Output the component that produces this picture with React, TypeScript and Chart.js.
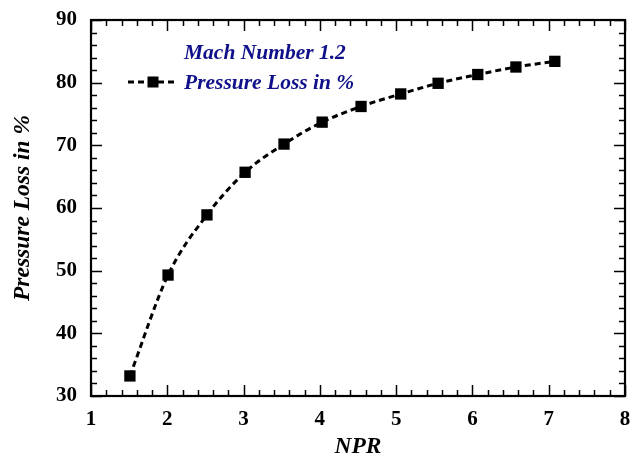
import React, { useEffect, useRef } from 'react';
import { Chart, registerables } from 'chart.js';

Chart.register(...registerables);

const npr = [1.51, 2.01, 2.52, 3.02, 3.53, 4.03, 4.54, 5.06, 5.55, 6.07, 6.57, 7.08];
const pressureLoss = [33.2, 49.3, 58.9, 65.7, 70.2, 73.7, 76.2, 78.2, 79.9, 81.3, 82.5, 83.4];
const legendLines = ['Mach Number 1.2', 'Pressure Loss in %'];
const xTitle = 'NPR';
const yTitle = 'Pressure Loss in %';
const xRange = [1, 8];
const yRange = [30, 90];

const SERIF = '"Liberation Serif", "Times New Roman", serif';
const NAVY = '#10108a';

const frameTicks = {
  id: 'frameTicks',
  beforeDatasetsDraw(chart: any) {
    const { ctx, chartArea } = chart;
    const { left, right, top, bottom } = chartArea;
    const xs = chart.scales.x;
    const ys = chart.scales.y;
    ctx.save();
    ctx.strokeStyle = '#000';
    ctx.lineWidth = 1.5;
    ctx.beginPath();
    const nx = Math.round((xRange[1] - xRange[0]) / 0.2);
    for (let i = 0; i <= nx; i++) {
      const v = xRange[0] + i * 0.2;
      const px = Math.round(xs.getPixelForValue(v)) + 0.5;
      const len = i % 5 === 0 ? 11 : 6;
      ctx.moveTo(px, bottom);
      ctx.lineTo(px, bottom - len);
      ctx.moveTo(px, top);
      ctx.lineTo(px, top + len);
    }
    const ny = Math.round((yRange[1] - yRange[0]) / 2);
    for (let i = 0; i <= ny; i++) {
      const v = yRange[0] + i * 2;
      const py = Math.round(ys.getPixelForValue(v)) + 0.5;
      const len = i % 5 === 0 ? 11 : 6;
      ctx.moveTo(left, py);
      ctx.lineTo(left + len, py);
      ctx.moveTo(right, py);
      ctx.lineTo(right - len, py);
    }
    ctx.stroke();
    ctx.lineWidth = 2.2;
    ctx.strokeRect(left, top, right - left, bottom - top);
    ctx.restore();
  },
};

const legendPlugin = {
  id: 'customLegend',
  afterDraw(chart: any) {
    const { ctx } = chart;
    ctx.save();
    ctx.font = `italic bold 21.5px ${SERIF}`;
    ctx.fillStyle = NAVY;
    ctx.textBaseline = 'alphabetic';
    ctx.textAlign = 'left';
    ctx.fillText(legendLines[0], 184, 59);
    ctx.fillText(legendLines[1], 184, 89);
    ctx.strokeStyle = '#000';
    ctx.lineWidth = 3;
    ctx.setLineDash([6, 4]);
    ctx.beginPath();
    ctx.moveTo(128, 82);
    ctx.lineTo(178, 82);
    ctx.stroke();
    ctx.setLineDash([]);
    ctx.fillStyle = '#000';
    ctx.fillRect(153 - 5.5, 82 - 5.5, 11, 11);
    ctx.restore();
  },
};

export default function App() {
  const ref = useRef<HTMLCanvasElement | null>(null);
  useEffect(() => {
    if (!ref.current) return;
    const chart = new Chart(ref.current, {
      type: 'line',
      data: {
        datasets: [
          {
            label: legendLines[1],
            data: npr.map((x, i) => ({ x, y: pressureLoss[i] })),
            borderColor: '#000',
            backgroundColor: '#000',
            borderWidth: 3,
            borderDash: [6, 4],
            cubicInterpolationMode: 'monotone',
            pointStyle: 'rect',
            pointRadius: 8,
            pointBorderWidth: 0,
            pointBackgroundColor: '#000',
            fill: false,
          },
        ],
      },
      options: {
        responsive: false,
        animation: false,
        devicePixelRatio: 1,
        layout: { padding: { top: 20, right: 13, left: 0, bottom: 0 } },
        plugins: {
          legend: { display: false },
          tooltip: { enabled: false },
        },
        scales: {
          x: {
            type: 'linear',
            min: xRange[0],
            max: xRange[1],
            border: { display: false },
            grid: { display: false, drawTicks: false },
            ticks: {
              stepSize: 1,
              padding: 11,
              color: '#000',
              font: { family: SERIF, size: 21, weight: 'bold' },
            },
            title: {
              display: true,
              text: xTitle,
              color: '#000',
              padding: { top: 0, bottom: 0 },
              font: { family: SERIF, size: 23.5, weight: 'bold', style: 'italic', lineHeight: 1 },
            },
            afterFit(scale: any) {
              scale.height = 63;
              scale.paddingLeft = 0;
              scale.paddingRight = 0;
            },
          },
          y: {
            type: 'linear',
            min: yRange[0],
            max: yRange[1],
            border: { display: false },
            grid: { display: false, drawTicks: false },
            ticks: {
              stepSize: 10,
              padding: 14,
              color: '#000',
              font: { family: SERIF, size: 21, weight: 'bold' },
            },
            title: {
              display: true,
              text: yTitle,
              color: '#000',
              padding: { top: 11, bottom: 0 },
              font: { family: SERIF, size: 23.5, weight: 'bold', style: 'italic', lineHeight: 1 },
            },
            afterFit(scale: any) {
              scale.width = 91;
              scale.paddingTop = 0;
              scale.paddingBottom = 0;
            },
          },
        },
      },
      plugins: [frameTicks, legendPlugin],
    } as any);
    return () => chart.destroy();
  }, []);
  return (
    <div style={{ position: 'fixed', left: 0, top: 0, width: 638, height: 459, background: '#fff' }}>
      <canvas ref={ref} width={638} height={459} style={{ display: 'block' }} />
    </div>
  );
}
